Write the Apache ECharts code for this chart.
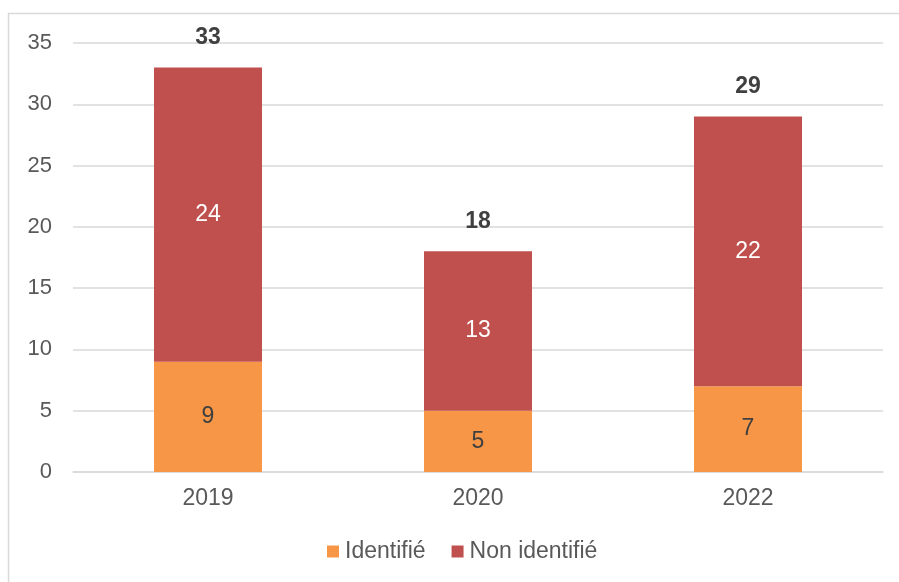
<!DOCTYPE html>
<html>
<head>
<meta charset="utf-8">
<script src="https://cdn.jsdelivr.net/npm/echarts@6/dist/echarts.min.js"></script>
<style>
  html, body { margin: 0; padding: 0; background: #fff; }
  #chart { width: 899px; height: 582px; }
</style>
</head>
<body>
<div id="chart"></div>
<script>
// 数据
var annees = ['2019', '2020', '2022'];
var identifie = [9, 5, 7];
var nonIdentifie = [24, 13, 22];
var totaux = [33, 18, 29];

var chart = echarts.init(document.getElementById('chart'));
var police = '"Liberation Sans", Arial, sans-serif';

var option = {
  animation: false,
  textStyle: { fontFamily: police },
  graphic: [{
    type: 'rect',
    shape: { x: 8.5, y: 13.5, width: 1000, height: 1000 },
    style: { fill: 'none', stroke: '#d9d9d9', lineWidth: 1.5 },
    silent: true
  }],
  grid: { left: 73, right: 16, top: 43, bottom: 110 },
  legend: {
    bottom: 14,
    left: 322,
    itemWidth: 12,
    itemHeight: 12,
    itemGap: 26,
    icon: 'rect',
    textStyle: { fontSize: 23, color: '#595959', fontFamily: police, padding: [0, 0, 0, 1] },
    data: ['Identifié', 'Non identifié']
  },
  xAxis: {
    type: 'category',
    data: annees,
    axisLine: { lineStyle: { color: '#d9d9d9', width: 1.5 } },
    axisTick: { show: false },
    axisLabel: { fontSize: 23, color: '#595959', margin: 15 }
  },
  yAxis: {
    type: 'value',
    min: 0,
    max: 35,
    interval: 5,
    axisLine: { show: false },
    axisTick: { show: false },
    axisLabel: { fontSize: 22, color: '#595959', margin: 21 },
    splitLine: { lineStyle: { color: '#d9d9d9', width: 1.5 } }
  },
  series: [
    {
      name: 'Identifié',
      type: 'bar',
      stack: 'total',
      barWidth: '40%',
      data: identifie,
      itemStyle: { color: '#F79646' },
      label: { show: true, position: 'inside', fontSize: 23, color: '#404040' }
    },
    {
      name: 'Non identifié',
      type: 'bar',
      stack: 'total',
      data: nonIdentifie,
      itemStyle: { color: '#C0504D' },
      label: { show: true, position: 'inside', fontSize: 23, color: '#fff' }
    },
    {
      name: 'Total',
      type: 'line',
      data: totaux,
      symbol: 'circle',
      symbolSize: 1,
      itemStyle: { color: 'rgba(0,0,0,0)' },
      lineStyle: { opacity: 0 },
      label: { show: true, position: 'top', distance: 18, fontSize: 23, fontWeight: 'bold', color: '#404040' },
      silent: true
    }
  ]
};
chart.setOption(option);
</script>
</body>
</html>
